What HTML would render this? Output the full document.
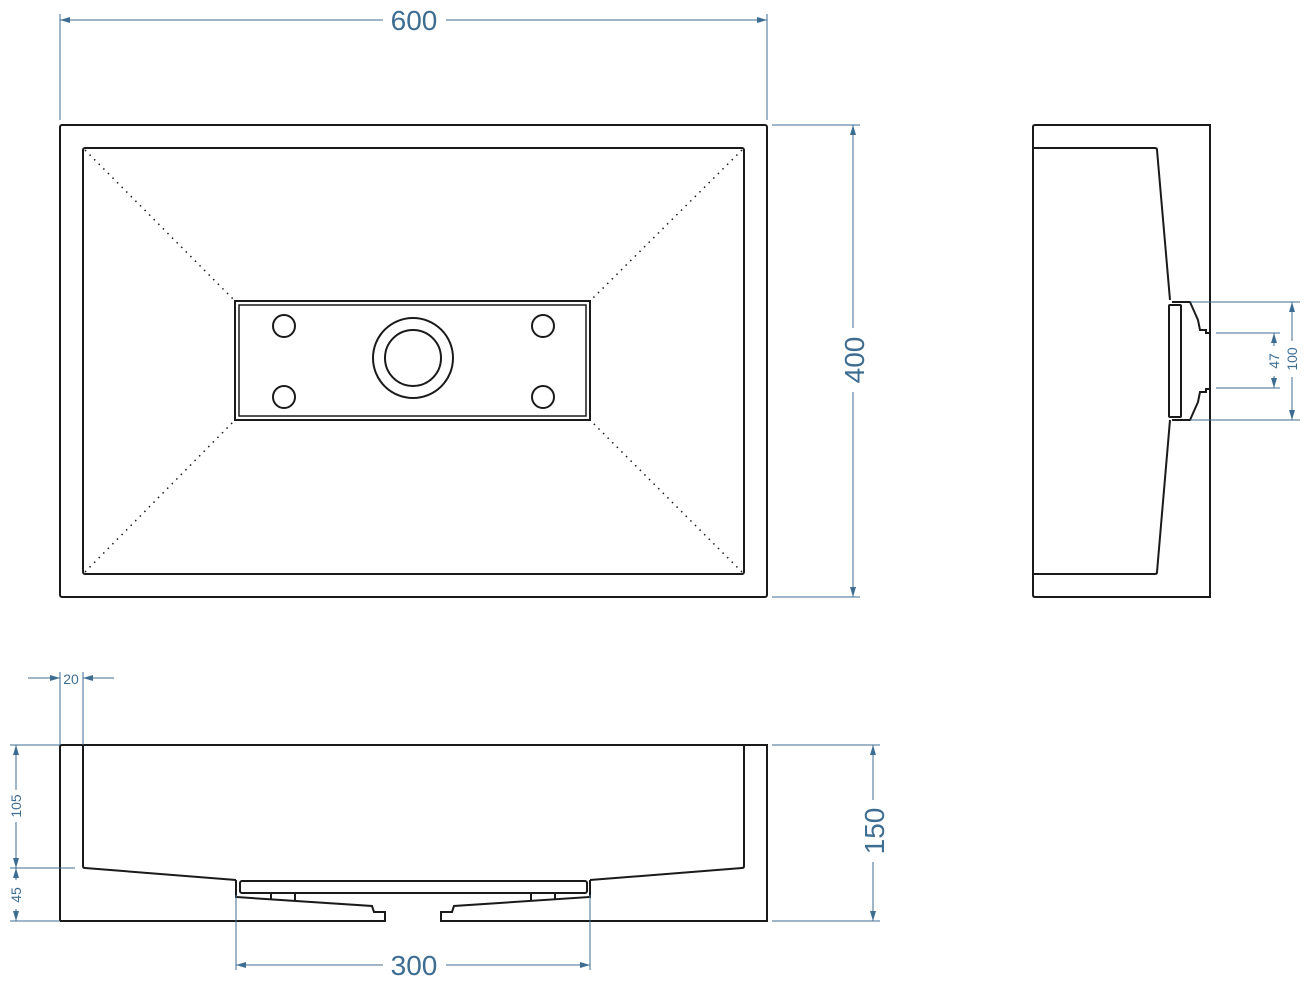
<!DOCTYPE html>
<html><head><meta charset="utf-8"><style>html,body{margin:0;padding:0;background:#fff}svg{display:block}</style></head>
<body>
<svg width="1308" height="985" viewBox="0 0 1308 985" xmlns="http://www.w3.org/2000/svg" font-family="Liberation Sans, sans-serif">
<defs>
<marker id="a" viewBox="0 0 10 6" refX="10" refY="3" markerWidth="10" markerHeight="6" orient="auto-start-reverse" markerUnits="userSpaceOnUse"><path d="M0,0L10,3L0,6z" fill="#3e6d92"/></marker>
</defs>
<g fill="none" stroke="#1a1a1a" stroke-width="2">
<!-- top view -->
<rect x="60" y="125" width="707" height="472" rx="2"/>
<rect x="83" y="148" width="661" height="426" rx="2"/>
<rect x="235" y="301" width="355" height="119"/>
<rect x="239" y="305" width="347" height="111" stroke-width="1.5"/>
<circle cx="284" cy="326" r="11"/><circle cx="543" cy="326" r="11"/>
<circle cx="284" cy="397" r="11"/><circle cx="543" cy="397" r="11"/>
<circle cx="413" cy="358" r="40"/><circle cx="413" cy="358" r="28"/>
<g stroke-width="1.5" stroke-dasharray="1.5 5">
<line x1="85" y1="150" x2="235" y2="301"/><line x1="742" y1="150" x2="590" y2="301"/>
<line x1="85" y1="572" x2="235" y2="420"/><line x1="742" y1="572" x2="590" y2="420"/>
</g>
<!-- side view -->
<path d="M1035,125H1210V597H1035Q1033,597 1033,595V127Q1033,125 1035,125Z"/>
<path d="M1033,148H1155Q1157,148 1157,150L1170,300"/>
<path d="M1033,574H1155Q1157,574 1157,572L1170,420"/>
<path d="M1172,302H1190L1198,320L1200,330H1206V333H1210"/>
<path d="M1172,420H1190L1198,402L1200,392H1206V389H1210"/>
<rect x="1169" y="305" width="12" height="112" rx="1"/>
<!-- front view -->
<path d="M60,921V747Q60,745 62,745H767V921H440"/>
<path d="M60,921H386"/>
<path d="M83,745V866Q83,868 85,868L236,880"/>
<path d="M744,745V866Q744,868 742,868L590,880"/>
<rect x="240" y="881" width="347" height="12" rx="2"/>
<path d="M236,880V897L372,906L374,912H385V921"/>
<path d="M590,880V897L454,906L452,912H441V921"/>
<line x1="271" y1="893" x2="271" y2="899"/><line x1="295" y1="893" x2="295" y2="901"/>
<line x1="531" y1="893" x2="531" y2="901"/><line x1="555" y1="893" x2="555" y2="899"/>
</g>
<g stroke="#3e6d92" stroke-width="1" fill="none">
<!-- 600 -->
<line x1="60" y1="14" x2="60" y2="120"/><line x1="767" y1="14" x2="767" y2="120"/>
<line x1="60" y1="20" x2="383" y2="20" marker-start="url(#a)"/><line x1="446" y1="20" x2="767" y2="20" marker-end="url(#a)"/>
<!-- 400 -->
<line x1="772" y1="125" x2="860" y2="125"/><line x1="772" y1="597" x2="860" y2="597"/>
<line x1="853" y1="125" x2="853" y2="328" marker-start="url(#a)"/><line x1="853" y1="392" x2="853" y2="597" marker-end="url(#a)"/>
<!-- 100 / 47 -->
<line x1="1190" y1="302" x2="1300" y2="302"/><line x1="1190" y1="420" x2="1300" y2="420"/>
<line x1="1216" y1="333" x2="1280" y2="333"/><line x1="1216" y1="388" x2="1280" y2="388"/>
<line x1="1292" y1="302" x2="1292" y2="341" marker-start="url(#a)"/><line x1="1292" y1="377" x2="1292" y2="420" marker-end="url(#a)"/>
<line x1="1274" y1="333" x2="1274" y2="346" marker-start="url(#a)"/><line x1="1274" y1="376" x2="1274" y2="388" marker-end="url(#a)"/>
<!-- 20 -->
<line x1="60" y1="672" x2="60" y2="745"/><line x1="83" y1="672" x2="83" y2="745"/>
<line x1="28" y1="678" x2="60" y2="678" marker-end="url(#a)"/><line x1="114" y1="678" x2="83" y2="678" marker-end="url(#a)"/>
<!-- 105/45 -->
<line x1="10" y1="745" x2="60" y2="745"/><line x1="10" y1="868" x2="75" y2="868"/><line x1="10" y1="921" x2="60" y2="921"/>
<line x1="16" y1="745" x2="16" y2="790" marker-start="url(#a)"/><line x1="16" y1="822" x2="16" y2="868" marker-end="url(#a)"/>
<line x1="16" y1="868" x2="16" y2="880" marker-start="url(#a)"/><line x1="16" y1="909" x2="16" y2="921" marker-end="url(#a)"/>
<!-- 150 -->
<line x1="772" y1="745" x2="880" y2="745"/><line x1="772" y1="921" x2="880" y2="921"/>
<line x1="873" y1="745" x2="873" y2="800" marker-start="url(#a)"/><line x1="873" y1="862" x2="873" y2="921" marker-end="url(#a)"/>
<!-- 300 -->
<line x1="236" y1="895" x2="236" y2="970"/><line x1="590" y1="895" x2="590" y2="970"/>
<line x1="236" y1="965" x2="383" y2="965" marker-start="url(#a)"/><line x1="446" y1="965" x2="590" y2="965" marker-end="url(#a)"/>
</g>
<g fill="#3e6d92" text-anchor="middle">
<text x="414" y="30" font-size="28">600</text>
<text x="414" y="975" font-size="28">300</text>
<text transform="translate(864,360) rotate(-90)" font-size="28">400</text>
<text transform="translate(884,831) rotate(-90)" font-size="28">150</text>
<text transform="translate(1297,359) rotate(-90)" font-size="14">100</text>
<text transform="translate(1279,361) rotate(-90)" font-size="14">47</text>
<text transform="translate(21,806) rotate(-90)" font-size="14">105</text>
<text transform="translate(21,895) rotate(-90)" font-size="14">45</text>
<text x="71" y="684" font-size="14">20</text>
</g>
</svg>
</body></html>
